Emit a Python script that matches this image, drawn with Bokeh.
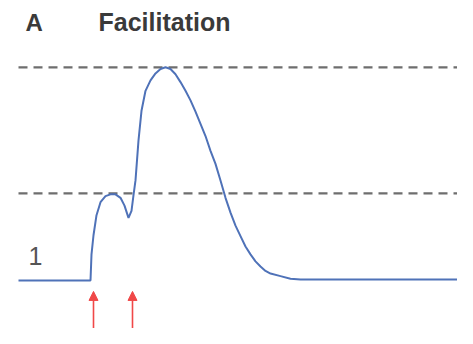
from bokeh.plotting import figure
from bokeh.models import Range1d, Arrow, NormalHead, Label
from bokeh.embed import file_html
from bokeh.resources import INLINE

# Time (arbitrary units) and normalised response amplitude
t = [0, 72, 73, 75, 78, 82, 87, 92, 97, 102, 106, 110, 113, 115, 117, 120, 123, 127,
     132, 137, 142, 147, 152, 157, 162, 167, 172, 177, 182, 187, 192, 197, 202,
     207, 212, 217, 222, 227, 232, 237, 242, 247, 252, 262, 272, 282, 452]
amp = [1.00, 1.00, 1.30, 1.52, 1.75, 1.90, 1.97, 1.99, 1.99, 1.95, 1.86, 1.72, 1.80,
       1.98, 2.15, 2.61, 2.95, 3.18, 3.30, 3.38, 3.43, 3.45, 3.43, 3.37, 3.28,
       3.18, 3.07, 2.94, 2.80, 2.66, 2.49, 2.34, 2.15, 1.95, 1.78, 1.63, 1.51,
       1.39, 1.30, 1.22, 1.16, 1.11, 1.08, 1.05, 1.02, 1.01, 1.01]
ref_levels = [2.0, 3.45]
ref_span = [0, 452]
stim_times = [75, 114]
panel_letter = "A"
title_text = "Facilitation"
baseline_label = "1"

p = figure(width=457, height=328, output_backend="svg", toolbar_location=None,
           x_range=Range1d(-18, 439), y_range=Range1d(0.448, 4.218),
           min_border=0, min_border_left=0, min_border_right=0,
           min_border_top=0, min_border_bottom=0)
p.axis.visible = False
p.grid.visible = False
p.outline_line_color = None
p.background_fill_color = "white"
p.border_fill_color = "white"

for lv in ref_levels:
    p.line(ref_span, [lv, lv], line_color="#6e6e6e", line_width=2.2,
           line_dash="9 6")

p.line(t, amp, line_color="#4f72b8", line_width=2)

for st in stim_times:
    p.add_layout(Arrow(end=NormalHead(size=9, fill_color="#f04848",
                                      line_color="#f04848"),
                       x_start=st, y_start=0.40, x_end=st, y_end=0.874,
                       line_color="#f04848", line_width=1.6))

p.add_layout(Label(x=7, y=3.966, text=panel_letter, text_font="Liberation Sans",
                   text_font_style="bold", text_font_size="24px",
                   text_color="#3a3a3a", text_baseline="middle"))
p.add_layout(Label(x=80, y=3.966, text=title_text, text_font="Liberation Sans",
                   text_font_style="bold", text_font_size="25px",
                   text_color="#3a3a3a", text_baseline="middle"))
p.add_layout(Label(x=10, y=1.28, text=baseline_label, text_font="Liberation Sans",
                   text_font_size="25px", text_color="#555555",
                   text_baseline="middle"))

open("out.html", "w").write(file_html(p, INLINE))
